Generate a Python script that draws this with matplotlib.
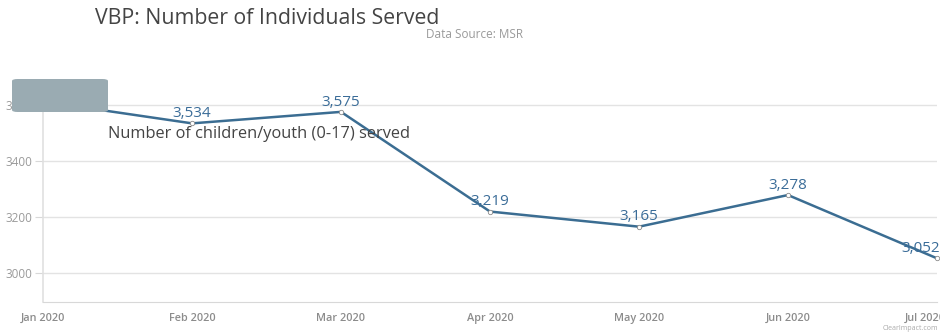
import matplotlib
matplotlib.use("Agg")
import matplotlib.pyplot as plt
import matplotlib.transforms as mtransforms
from matplotlib.patches import FancyBboxPatch

months = ["Jan 2020", "Feb 2020", "Mar 2020", "Apr 2020", "May 2020", "Jun 2020", "Jul 2020"]
served = [3612, 3534, 3575, 3219, 3165, 3278, 3052]
yticks = [3000, 3200, 3400, 3600]

plt.rcParams['font.family'] = ['Open Sans', 'DejaVu Sans']

fig = plt.figure(figsize=(9.4, 3.35), dpi=100)
ax = fig.add_axes([43/940, 33/335, 894/940, 217/335])

x = list(range(len(months)))
line_col = "#3b6d92"
ax.plot(x, served, color=line_col, lw=1.8, zorder=3, clip_on=False)
ax.scatter(x, served, s=10, facecolor="white", edgecolor="#8a8a8a", lw=0.6, zorder=4, clip_on=False)
for xi, v in zip(x, served):
    last = xi == x[-1]
    ax.annotate(f"{v:,}", (xi, v), xytext=(2 if last else 0, 7), textcoords="offset points",
                ha="right" if last else "center", va="center", fontsize=11,
                color="#3a6c98", zorder=5, annotation_clip=False)

ax.set_xlim(0, 6)
ax.set_ylim(2896, 3671)
ax.set_yticks(yticks)
ax.set_yticklabels([str(t) for t in yticks])
ax.set_xticks(x)
ax.set_xticklabels(months)
ax.grid(axis="y", color="#e3e3e3", lw=1)
ax.set_axisbelow(True)
for s in ["top", "right"]:
    ax.spines[s].set_visible(False)
ax.spines["left"].set_color("#e0e0e0")
ax.spines["bottom"].set_color("#d8d8d8")
ax.spines["left"].set_linewidth(1.2)
ax.tick_params(axis="y", length=6, color="#d8d8d8", labelsize=8.5, labelcolor="#9a9a9a", pad=2)
ax.tick_params(axis="x", length=0, labelsize=7.8, labelcolor="#8c8c8c", pad=8)
for t in ax.get_xticklabels():
    t.set_fontweight("semibold")
# pull the last month label in a little from the right edge
last_lbl = ax.get_xticklabels()[-1]
last_lbl.set_transform(last_lbl.get_transform() +
                       mtransforms.ScaledTranslation(-12/100, 0, fig.dpi_scale_trans))

fig.text(95/940, 1 - 18/335, "VBP: Number of Individuals Served", fontsize=15.3,
         color="#444444", va="center", ha="left")
fig.text(426/940, 1 - 34/335, "Data Source: MSR", fontsize=8.5, color="#9a9a9a",
         va="center", ha="left")
fig.text(108/940, 1 - 134/335, "Number of children/youth (0-17) served", fontsize=11.8,
         color="#444444", va="center", ha="left", zorder=1)
fig.text(938/940, 1 - 328/335, "ClearImpact.com", fontsize=5, color="#aaaaaa",
         va="center", ha="right")

box = FancyBboxPatch((12/940, 1 - 112/335), 96/940, 33/335,
                     boxstyle="round,pad=0,rounding_size=0.006",
                     transform=fig.transFigure, facecolor="#9aabb2", edgecolor="none",
                     zorder=10)
fig.patches.append(box)

fig.savefig("out.png", dpi=100)
